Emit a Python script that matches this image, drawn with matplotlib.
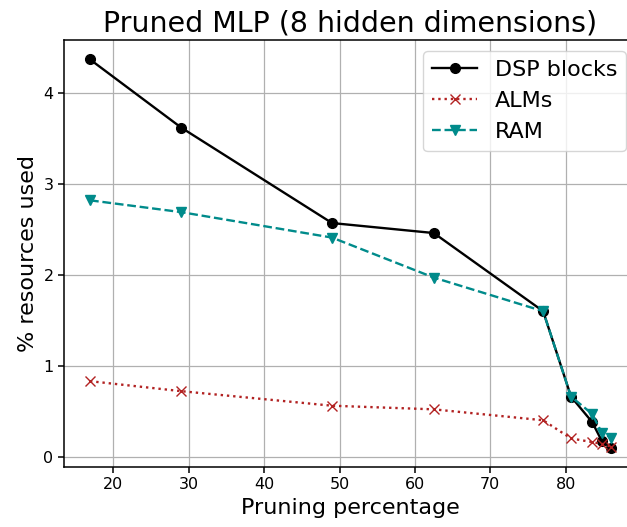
import matplotlib
matplotlib.use("Agg")
import matplotlib.pyplot as plt

prune = [16.9, 29.0, 49.0, 62.5, 77.0, 80.7, 83.5, 84.8, 86.0]
dsp = [4.37, 3.62, 2.57, 2.46, 1.60, 0.66, 0.38, 0.17, 0.10]
alms = [0.83, 0.72, 0.56, 0.52, 0.40, 0.20, 0.16, 0.14, 0.11]
ram = [2.82, 2.69, 2.41, 1.97, 1.60, 0.66, 0.47, 0.26, 0.21]

fig, ax = plt.subplots(figsize=(6.27, 5.27), dpi=100)
ax.plot(prune, dsp, "o-", color="black", lw=1.7, ms=7, label="DSP blocks")
ax.plot(prune, alms, "x:", color="firebrick", lw=1.7, ms=7, label="ALMs")
ax.plot(prune, ram, "v--", color="darkcyan", lw=1.7, ms=7, label="RAM")
ax.set_title("Pruned MLP (8 hidden dimensions)", fontsize=20.5)
ax.set_xlabel("Pruning percentage", fontsize=16)
ax.set_ylabel("% resources used", fontsize=16)
ax.tick_params(labelsize=11.5, width=1.1, length=4)
for s in ax.spines.values():
    s.set_linewidth(1.1)
ax.grid(True, lw=0.9)
ax.legend(fontsize=16, loc="upper right")
fig.subplots_adjust(left=0.102, right=1.016, top=0.924, bottom=0.114)
fig.savefig("out.png")
